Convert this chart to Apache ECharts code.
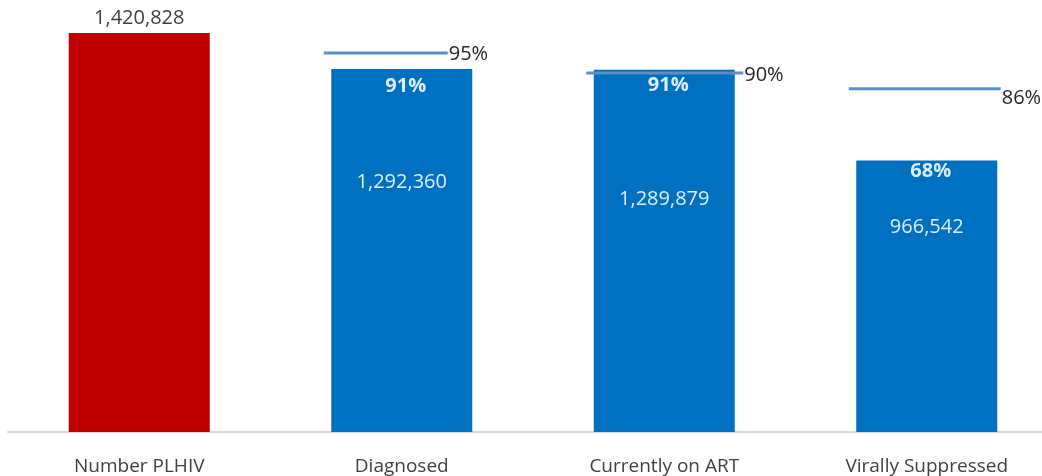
<!DOCTYPE html>
<html><head><meta charset="utf-8">
<script src="https://cdn.jsdelivr.net/npm/echarts@6/dist/echarts.min.js"></script>
<style>html,body{margin:0;padding:0;background:#fff}#c{width:1042px;height:476px}</style>
</head><body><div id="c"></div>
<script>
const categories = ['Number PLHIV', 'Diagnosed', 'Currently on ART', 'Virally Suppressed'];
const counts = [1420828, 1292360, 1289879, 966542];
const percentLabels = ['', '91%', '91%', '68%'];
const targetCategories = ['Diagnosed', 'Currently on ART', 'Virally Suppressed'];
const targetPercents = [95, 90, 86];

const FONT = '"Open Sans", "Noto Sans", sans-serif';
const fmt = v => v.toLocaleString('en-US');
const pctY = [0, 17, 16, 11];
const valY = [-15, 113, 130, 67];
const lineRight = [46, 79, 74];
const tgtDy = [1, 2, 9];

const chart = echarts.init(document.getElementById('c'), null, {renderer: 'canvas'});

const barData = counts.map((v, i) => ({
  value: v,
  itemStyle: {color: i === 0 ? '#c00000' : '#0070c0'},
  label: i === 0 ? {
    show: true, position: ['50%', valY[i]], align: 'center', verticalAlign: 'middle',
    formatter: fmt(v), color: '#404040', fontSize: 20, fontFamily: FONT
  } : {
    show: true, position: ['50%', pctY[i]], offset: [4, 0], align: 'center', verticalAlign: 'middle',
    formatter: percentLabels[i], color: '#dcefff', fontSize: 20, fontWeight: 'bold', fontFamily: FONT
  }
}));

const overlayData = counts.map((v, i) => ({
  value: v,
  label: i === 0 ? {show: false} : {
    show: true, position: ['50%', valY[i]], align: 'center', verticalAlign: 'middle',
    formatter: fmt(v), color: '#dcefff', fontSize: 20, fontFamily: FONT
  }
}));

const targetData = targetCategories.map((c, i) => [c, counts[0] * targetPercents[i] / 100, targetPercents[i]]);

chart.setOption({
  animation: false,
  grid: {left: 8, right: -16, top: 33, bottom: 44, outerBoundsMode: 'none', containLabel: false},
  xAxis: {
    type: 'category', data: categories,
    axisLine: {lineStyle: {color: '#d9d9d9', width: 2}},
    axisTick: {show: false},
    axisLabel: {color: '#404040', fontSize: 19, fontFamily: FONT, margin: 25}
  },
  yAxis: {type: 'value', min: 0, max: counts[0], show: false, splitLine: {show: false}},
  series: [
    {type: 'bar', data: barData, barWidth: 141, z: 2},
    {type: 'bar', data: overlayData, barWidth: 141, barGap: '-100%', itemStyle: {color: 'rgba(0,0,0,0)'}, z: 3},
    {
      type: 'custom', data: targetData, z: 5,
      encode: {x: 0, y: 1},
      renderItem: function (params, api) {
        const p = api.coord([api.value(0), api.value(1)]);
        const i = params.dataIndex;
        const x1 = p[0] - 78, x2 = p[0] + lineRight[i];
        return {
          type: 'group', children: [
            {type: 'line', shape: {x1: x1, y1: p[1], x2: x2, y2: p[1]}, style: {stroke: '#5b8fc9', lineWidth: 3}},
            {type: 'text', x: x2 + 1, y: p[1] + tgtDy[i], style: {
              text: api.value(2) + '%', fill: '#262626', fontSize: 20, fontFamily: FONT,
              align: 'left', verticalAlign: 'middle'
            }}
          ]
        };
      }
    }
  ]
});
</script>
</body></html>
